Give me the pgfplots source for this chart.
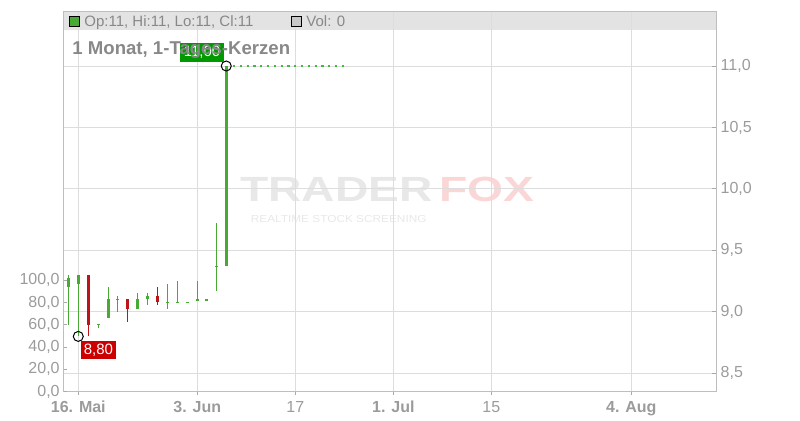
\documentclass[border=0pt]{standalone}
\usepackage{fontspec}
\setmainfont{Liberation Sans}
\usepackage{pgfplots}
\pgfplotsset{compat=1.18}
\usepackage{pgfplotstable}

\definecolor{cgreen}{RGB}{72,170,50}
\definecolor{cred}{RGB}{190,20,25}
\definecolor{lblred}{RGB}{204,0,0}
\definecolor{lblgreen}{RGB}{0,153,0}
\definecolor{dotgreen}{RGB}{60,190,60}
\definecolor{framegray}{RGB}{190,190,190}
\definecolor{gridgray}{RGB}{221,221,221}
\definecolor{tickgray}{RGB}{170,170,170}
\definecolor{labgray}{RGB}{155,155,155}
\definecolor{titlegray}{RGB}{136,136,136}
\definecolor{bargray}{RGB}{227,227,227}
\definecolor{wmgray}{RGB}{232,232,232}
\definecolor{wmpink}{RGB}{251,214,214}

% green candles: x (days) open high low close
\pgfplotstableread{
x o h l c
-0.43 9.198 9.300 8.894 9.274
1.00 9.225 9.300 8.800 9.300
3.86 8.900 8.900 8.870 8.900
5.29 8.949 9.200 8.949 9.103
6.57 9.100 9.130 9.000 9.105
9.43 9.022 9.152 9.022 9.103
10.86 9.103 9.152 9.054 9.130
13.71 9.080 9.225 9.022 9.080
15.14 9.080 9.250 9.080 9.080
16.57 9.080 9.080 9.080 9.080
18.00 9.100 9.250 9.100 9.100
19.31 9.100 9.100 9.100 9.100
20.71 9.370 9.726 9.173 9.370
22.14 9.370 11.000 9.370 11.000
}\greentab

% red candles
\pgfplotstableread{
x o h l c
2.43 9.300 9.300 8.800 8.894
8.00 9.103 9.103 8.921 9.022
12.29 9.130 9.200 9.054 9.076
}\redtab

\newcommand{\px}[2]{({#1*0.5pt},{(420-#2)*0.5pt})}
\newcommand{\numfmt}{\pgfmathprintnumber[fixed,fixed zerofill,precision=1,use comma,assume math mode=true]{\tick}}

\begin{document}
\begin{tikzpicture}
\path[use as bounding box] (0,0) rectangle (400pt,210pt);

% watermark
\node[text=wmgray, font=\fontsize{17.5pt}{17.5pt}\selectfont\bfseries, xscale=1.32, inner sep=0pt] at \px{336.5}{189.5} {TRADER};
\node[text=wmpink, font=\fontsize{17.5pt}{17.5pt}\selectfont\bfseries, xscale=1.32, inner sep=0pt] at \px{486.5}{189.5} {FOX};
\node[text=wmgray, font=\fontsize{5.1pt}{5.1pt}\selectfont, xscale=1.16, inner sep=0pt] at \px{338.7}{218.6} {REALTIME STOCK SCREENING};

% top info bar
\fill[bargray] \px{63.3}{11} rectangle \px{716.3}{30};

\begin{axis}[
  at={(31.65pt,14.15pt)}, anchor=south west,
  width=326.5pt, height=190.35pt, scale only axis,
  xmin=-1.14, xmax=92.14, ymin=8.35, ymax=11.4475,
  axis line style={draw=framegray, line width=0.5pt},
  grid=major, major grid style={draw=gridgray, line width=0.5pt},
  xtick={1,18,32,46,60,80},
  xticklabels={\textbf{16. Mai},\textbf{3. Jun},17,\textbf{1. Jul},15,\textbf{4. Aug}},
  ytick={8.5,9,9.5,10,10.5,11},
  yticklabel pos=right, ytick pos=right, xtick pos=bottom,
  tick align=inside, major tick length=2pt,
  tick style={draw=tickgray, line width=0.5pt},
  x tick style={yshift=-1.6pt},
  yticklabel={\numfmt},
  yticklabel style={anchor=west, inner sep=0pt, xshift=2pt, font=\fontsize{8pt}{8pt}\selectfont, text=labgray},
  xticklabel style={anchor=base, inner sep=0pt, yshift=-10.15pt, font=\fontsize{8pt}{8pt}\selectfont, text=labgray},
]
% wicks
\addplot[draw=none, mark=none, forget plot,
  error bars/.cd, y dir=both, y explicit, error mark=none,
  error bar style={draw=cgreen, line width=0.6pt}]
  table[x=x, y expr={(\thisrow{h}+\thisrow{l})/2}, y error expr={(\thisrow{h}-\thisrow{l})/2}] {\greentab};
\addplot[draw=none, mark=none, forget plot,
  error bars/.cd, y dir=both, y explicit, error mark=none,
  error bar style={draw=cred, line width=0.6pt}]
  table[x=x, y expr={(\thisrow{h}+\thisrow{l})/2}, y error expr={(\thisrow{h}-\thisrow{l})/2}] {\redtab};
% bodies
\addplot[draw=none, mark=none, forget plot,
  error bars/.cd, y dir=both, y explicit, error mark=none,
  error bar style={draw=cgreen, line width=1.6pt, line cap=butt}]
  table[x=x, y expr={(\thisrow{o}+\thisrow{c})/2}, y error expr={max(abs(\thisrow{c}-\thisrow{o})/2,0.004)}] {\greentab};
\addplot[draw=none, mark=none, forget plot,
  error bars/.cd, y dir=both, y explicit, error mark=none,
  error bar style={draw=cred, line width=1.6pt, line cap=butt}]
  table[x=x, y expr={(\thisrow{o}+\thisrow{c})/2}, y error expr={max(abs(\thisrow{c}-\thisrow{o})/2,0.004)}] {\redtab};
% last price line
\addplot[dotgreen, line width=0.6pt, dash pattern=on 1.1pt off 2.3pt, forget plot] coordinates {(23.1,11) (39.4,11)};
% low / high markers
\addplot[only marks, mark=o, mark size=2.5pt, black, line width=0.5pt, forget plot] coordinates {(1.0,8.80) (22.14,11.0)};
\end{axis}

% volume axis (left)
\begin{axis}[
  at={(31.65pt,14.15pt)}, anchor=south west,
  width=326.5pt, height=190.35pt, scale only axis,
  xmin=0, xmax=1, ymin=0, ymax=341.4,
  axis x line=none, axis y line*=left,
  axis line style={draw=framegray, line width=0.5pt, -},
  ytick={0,20,40,60,80,100},
  tick align=inside, major tick length=1.7pt,
  tick style={draw=tickgray, line width=0.5pt},
  yticklabel={\numfmt},
  yticklabel style={anchor=east, inner sep=0pt, xshift=-1.65pt, font=\fontsize{8pt}{8pt}\selectfont, text=labgray},
]
\addplot[draw=none, forget plot] coordinates {(0,0)};
\end{axis}

% legend items in bar
\filldraw[fill=cgreen, draw=black, line width=0.5pt] \px{69}{16.5} rectangle \px{79}{26.5};
\node[anchor=base west, inner sep=0pt, text=titlegray, font=\fontsize{7.5pt}{7.5pt}\selectfont] at \px{84}{26.5} {Op:11, Hi:11, Lo:11, Cl:11};
\filldraw[fill={rgb,255:red,200;green,200;blue,200}, draw=black, line width=0.5pt] \px{291}{16.5} rectangle \px{301}{26.5};
\node[anchor=base west, inner sep=0pt, text=titlegray, font=\fontsize{7.5pt}{7.5pt}\selectfont] at \px{306}{26.5} {Vol: 0};

% price labels
\fill[lblred] \px{81}{341} rectangle \px{115.7}{359.3};
\node[text=white, inner sep=0pt, font=\fontsize{7.5pt}{7.5pt}\selectfont] at \px{98.35}{350.2} {8,80};
\fill[lblgreen] \px{180}{43.3} rectangle \px{224}{61.7};
\node[text=white, inner sep=0pt, font=\fontsize{7.5pt}{7.5pt}\selectfont] at \px{202}{52.5} {11,00};

% title
\node[anchor=base west, inner sep=0pt, text=titlegray, font=\fontsize{9.3pt}{9.3pt}\selectfont\bfseries] at \px{72}{54} {1 Monat, 1-Tages-Kerzen};
\end{tikzpicture}
\end{document}
